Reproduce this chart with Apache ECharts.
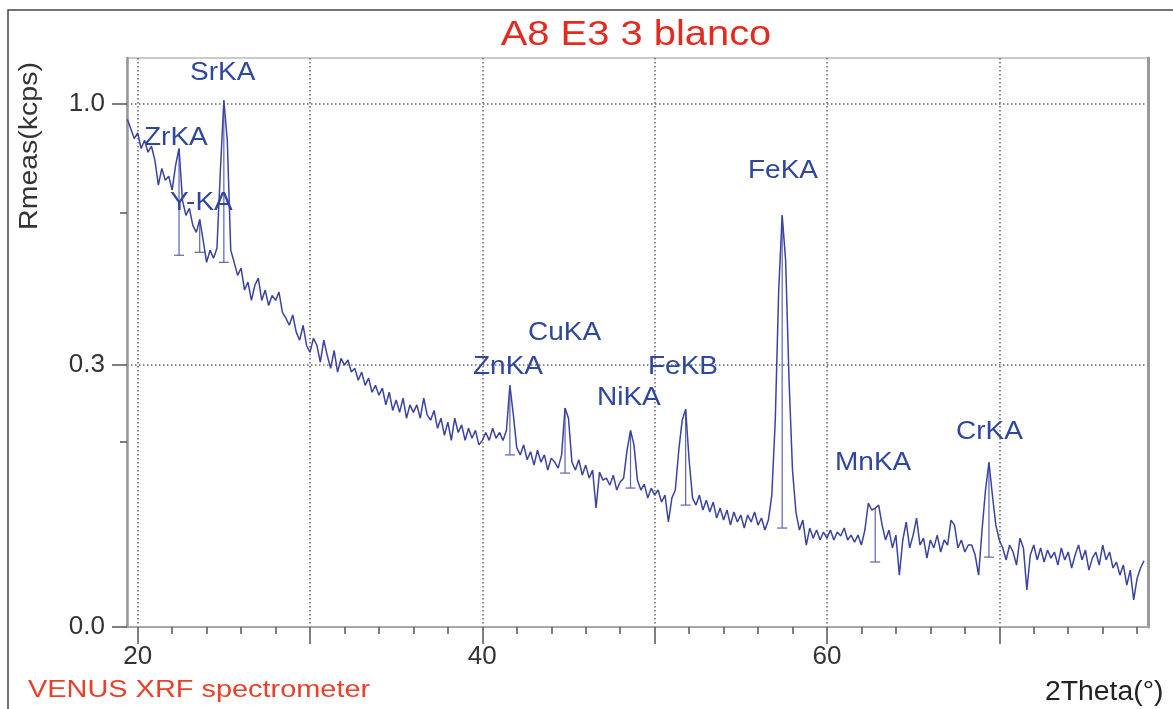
<!DOCTYPE html>
<html>
<head>
<meta charset="utf-8">
<script src="https://cdn.jsdelivr.net/npm/echarts@6/dist/echarts.min.js"></script>
<style>
html,body{margin:0;padding:0;background:#fff;}
#main{width:1173px;height:709px;}
</style>
</head>
<body>
<div id="main"></div>
<script>
// scan grid: 2Theta start and step (deg)
const scanStart = 19.4;
const scanStep = 0.2;
// Rmeas (kcps), one value per scan step
const rmeas = [
  0.94, 0.905, 0.87,
  0.89, 0.835, 0.864, 0.822, 0.843,
  0.794, 0.712, 0.767, 0.728, 0.741,
  0.696, 0.777, 0.835, 0.664, 0.618,
  0.639, 0.588, 0.568, 0.606, 0.545,
  0.485, 0.518, 0.496, 0.523, 0.761,
  1.012, 0.864, 0.518, 0.485, 0.451,
  0.470, 0.414, 0.434, 0.389, 0.426,
  0.444, 0.389, 0.414, 0.377, 0.401,
  0.389, 0.409, 0.361, 0.348, 0.332,
  0.355, 0.317, 0.300, 0.332, 0.289,
  0.275, 0.304, 0.289, 0.256, 0.300,
  0.269, 0.244, 0.279, 0.237, 0.263,
  0.250, 0.260, 0.237, 0.244, 0.222,
  0.237, 0.213, 0.226, 0.201, 0.213,
  0.196, 0.208, 0.180, 0.201, 0.171,
  0.188, 0.168, 0.191, 0.159, 0.180,
  0.168, 0.180, 0.159, 0.191, 0.164,
  0.156, 0.171, 0.144, 0.159, 0.134,
  0.153, 0.127, 0.159, 0.138, 0.149,
  0.127, 0.144, 0.130, 0.141, 0.121,
  0.127, 0.138, 0.127, 0.144, 0.130,
  0.138, 0.127, 0.141, 0.213, 0.164,
  0.117, 0.108, 0.121, 0.102, 0.112,
  0.0956, 0.114, 0.0992, 0.108, 0.0898,
  0.104, 0.0992, 0.092, 0.108, 0.175,
  0.159, 0.0992, 0.0898, 0.102, 0.0841,
  0.0956, 0.0808, 0.0898, 0.0516, 0.0875,
  0.0787, 0.0808, 0.0734, 0.0841, 0.0684,
  0.0766, 0.0808, 0.114, 0.141, 0.121,
  0.0787, 0.0684, 0.0745, 0.0606, 0.0703,
  0.0635, 0.0684, 0.0569, 0.0635, 0.0402,
  0.0606, 0.0684, 0.114, 0.156, 0.173,
  0.102, 0.0606, 0.0542, 0.0635, 0.0499,
  0.0587, 0.0482, 0.0569, 0.0433, 0.0516,
  0.0417, 0.0499, 0.0379, 0.0482, 0.0402,
  0.0457, 0.0357, 0.0457, 0.0402, 0.0482,
  0.0379, 0.0433, 0.0343, 0.0417, 0.0635,
  0.156, 0.414, 0.618, 0.491, 0.222,
  0.0898, 0.0482, 0.0343, 0.0417, 0.0245,
  0.0357, 0.0288, 0.0343, 0.0276, 0.0329,
  0.0288, 0.0343, 0.0276, 0.0329, 0.0302,
  0.0357, 0.0276, 0.0308, 0.0263, 0.0308,
  0.0245, 0.0343, 0.056, 0.0499, 0.0516,
  0.0542, 0.0379, 0.0276, 0.0343, 0.0228,
  0.0308, 0.0098, 0.0276, 0.0402, 0.0228,
  0.0308, 0.0433, 0.0245, 0.0288, 0.0173,
  0.0276, 0.0228, 0.0308, 0.0205, 0.0276,
  0.0245, 0.0417, 0.0379, 0.0228, 0.0276,
  0.0205, 0.0245, 0.0245, 0.0189, 0.0098,
  0.0343, 0.0684, 0.099, 0.0635, 0.0379,
  0.0276, 0.0228, 0.0164, 0.0245, 0.0205,
  0.014, 0.0288, 0.0228, 0.005, 0.0189,
  0.0245, 0.0164, 0.0228, 0.0154, 0.0216,
  0.0173, 0.0205, 0.014, 0.0228, 0.0164,
  0.0205, 0.0127, 0.0189, 0.0245, 0.0164,
  0.0216, 0.0118, 0.0173, 0.0205, 0.014,
  0.0245, 0.0164, 0.0205, 0.0127, 0.0154,
  0.0098, 0.014, 0.0064, 0.0118, 0.0027,
  0.0087, 0.0127, 0.016
];

// identified lines: position, peak top and background (kcps)
const peakNames = ['ZrKA', 'Y-KA', 'SrKA', 'ZnKA', 'CuKA', 'NiKA', 'FeKB', 'FeKA', 'MnKA', 'CrKA'];
const peakTheta = [22.4, 23.6, 25.0, 41.6, 44.8, 48.6, 51.8, 57.4, 62.8, 69.4];
const peakTop   = [0.835, 0.606, 1.012, 0.213, 0.175, 0.141, 0.173, 0.618, 0.0516, 0.099];
const peakBase  = [0.504, 0.512, 0.485, 0.108, 0.0864, 0.0704, 0.0542, 0.0357, 0.0154, 0.0178];

// axis ticks
const xMajorTicks = [20, 30, 40, 50, 60, 70];
const xLabelTicks = [20, 40, 60];
const xMinorTicks = [20, 22, 24, 26, 28, 30, 32, 34, 36, 38, 40, 42, 44, 46, 48, 50,
                     52, 54, 56, 58, 60, 62, 64, 66, 68, 70, 72, 74, 76, 78];
const yMajorTicks = [0, 0.25, 1.0];   // kcps
const yMinorTicks = [0.125, 0.625];   // kcps

// layout of the peak names (pixels: left, middle)
const labelPos = {
  'SrKA': [190, 73], 'ZrKA': [144, 138], 'Y-KA': [170, 203], 'CuKA': [528, 333],
  'ZnKA': [473, 367], 'NiKA': [597, 398], 'FeKB': [648, 367], 'FeKA': [748, 171],
  'MnKA': [835, 463], 'CrKA': [956, 432]
};

// the y axis is drawn on a square-root scale
const toAxis = v => Math.sqrt(v);
const xMin = 19.38, xMax = 78.63;
const yMax = 1.0866;

const FONT = "'Liberation Sans', Arial, sans-serif";
const BLUE = '#2f479c';

const lineData = rmeas.map((v, i) => [+(scanStart + i * scanStep).toFixed(2), toAxis(v)]);
const peakData = peakTheta.map((t, i) => [t, toAxis(peakTop[i]), toAxis(peakBase[i])]);

const chart = echarts.init(document.getElementById('main'));

const gridLine = { show: true, lineStyle: { color: '#666', width: 1.5, type: [1.5, 2.5] } };

const texts = peakNames.map(n => ({
  type: 'text', x: labelPos[n][0], y: labelPos[n][1], scaleX: 1.12, z: 10,
  style: { text: n, fontSize: 25, fontFamily: FONT, fill: BLUE, align: 'left', verticalAlign: 'middle' }
}));

chart.setOption({
  animation: false,
  backgroundColor: '#fff',
  grid: { left: 127, top: 58, right: 25, bottom: 82, show: true, borderColor: '#cacaca', borderWidth: 2 },
  xAxis: [{
    type: 'value', min: xMin, max: xMax, position: 'bottom',
    axisLine: { show: true, lineStyle: { color: '#a8a8a8', width: 2 } },
    axisTick: { show: true, customValues: xMajorTicks, length: 17, lineStyle: { color: '#555', width: 1.5 } },
    axisLabel: { customValues: xLabelTicks, fontSize: 26, fontFamily: FONT, color: '#333', margin: 17 },
    splitLine: gridLine
  }, {
    type: 'value', min: xMin, max: xMax, position: 'bottom',
    axisLine: { show: false },
    axisTick: { show: true, customValues: xMinorTicks, length: 7, lineStyle: { color: '#555', width: 1.5 } },
    axisLabel: { show: false },
    splitLine: { show: false }
  }],
  yAxis: [{
    type: 'value', min: 0, max: yMax, position: 'left',
    axisLine: { show: true, lineStyle: { color: '#999', width: 2.5 } },
    axisTick: { show: true, customValues: yMajorTicks.map(toAxis), length: 15, lineStyle: { color: '#555', width: 1.5 } },
    axisLabel: {
      customValues: yMajorTicks.map(toAxis), fontSize: 26, fontFamily: FONT, color: '#333', margin: 22,
      formatter: v => (v * v).toFixed(1)
    },
    splitLine: gridLine
  }, {
    type: 'value', min: 0, max: yMax, position: 'left',
    axisLine: { show: false },
    axisTick: { show: true, customValues: yMinorTicks.map(toAxis), length: 7, lineStyle: { color: '#555', width: 1.5 } },
    axisLabel: { show: false },
    splitLine: { show: false }
  }, {
    type: 'value', min: 0, max: yMax, position: 'right',
    axisLine: { show: true, lineStyle: { color: '#999', width: 3 } },
    axisTick: { show: false }, axisLabel: { show: false }, splitLine: { show: false }
  }],
  series: [{
    type: 'line',
    data: lineData,
    showSymbol: false,
    lineStyle: { color: '#3b43a0', width: 1.5 },
    z: 3
  }, {
    type: 'custom',
    data: peakData,
    encode: { x: 0, y: [1, 2] },
    z: 2,
    renderItem: (params, api) => {
      const top = api.coord([api.value(0), api.value(1)]);
      const base = api.coord([api.value(0), api.value(2)]);
      const st = { stroke: '#5d62b3', lineWidth: 1.2 };
      return {
        type: 'group',
        children: [
          { type: 'line', shape: { x1: top[0], y1: top[1], x2: base[0], y2: base[1] }, style: st },
          { type: 'line', shape: { x1: base[0] - 5, y1: base[1], x2: base[0] + 5, y2: base[1] }, style: st }
        ]
      };
    }
  }],
  graphic: [
    { type: 'rect', shape: { x: 8, y: 10, width: 1200, height: 720 }, style: { fill: 'none', stroke: '#444', lineWidth: 1.5 }, z: 0 },
    { type: 'text', x: 636, y: 35, scaleX: 1.14, style: { text: 'A8 E3 3 blanco', fontSize: 35, fontFamily: FONT, fill: '#e32a1f', align: 'center', verticalAlign: 'middle' } },
    { type: 'text', x: 30, y: 146, rotation: Math.PI / 2, scaleX: 1.14, style: { text: 'Rmeas(kcps)', fontSize: 25, fontFamily: FONT, fill: '#333', align: 'center', verticalAlign: 'middle' } },
    { type: 'text', x: 28, y: 691, scaleX: 1.23, style: { text: 'VENUS XRF spectrometer', fontSize: 23.5, fontFamily: FONT, fill: '#e8412b', align: 'left', verticalAlign: 'middle' } },
    { type: 'text', x: 1045, y: 693, scaleX: 1.05, style: { text: '2Theta(°)', fontSize: 27, fontFamily: FONT, fill: '#222', align: 'left', verticalAlign: 'middle' } }
  ].concat(texts)
});
</script>
</body>
</html>
